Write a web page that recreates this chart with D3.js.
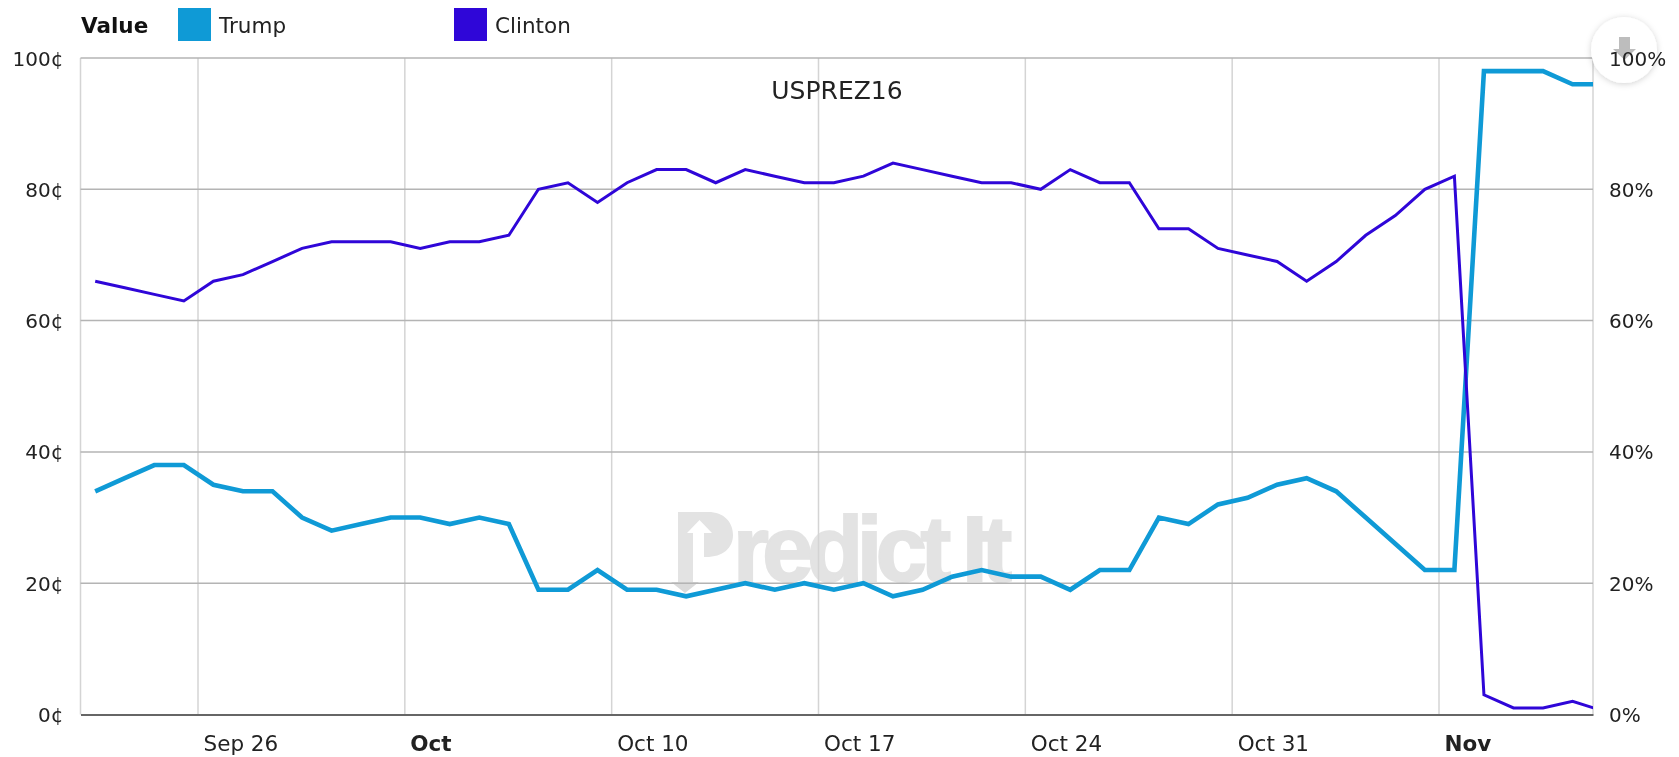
<!DOCTYPE html>
<html><head><meta charset="utf-8">
<script src="https://cdn.jsdelivr.net/npm/d3@7"></script>
<style>
html,body{margin:0;padding:0;background:#fff}
svg{display:block;filter:blur(0.45px)}
text{font-family:"DejaVu Sans",Verdana,sans-serif;fill:#222}
</style></head><body><svg id="c" width="1679" height="757"></svg>
<script>
const dates=["09-22","09-23","09-24","09-25","09-26","09-27","09-28","09-29","09-30","10-01","10-02","10-03","10-04","10-05","10-06","10-07","10-08","10-09","10-10","10-11","10-12","10-13","10-14","10-15","10-16","10-17","10-18","10-19","10-20","10-21","10-22","10-23","10-24","10-25","10-26","10-27","10-28","10-29","10-30","10-31","11-01","11-02","11-03","11-04","11-05","11-06","11-07","11-08","11-09","11-10","11-11"];
const trump=[34,36,38,38,35,34,34,30,28,29,30,30,29,30,29,19,19,22,19,19,18,19,20,19,20,19,20,18,19,21,22,21,21,19,22,22,30,29,32,33,35,36,34,30,26,22,22,98,98,98,96];
const clinton=[66,65,64,63,66,67,69,71,72,72,72,71,72,72,73,80,81,78,81,83,83,81,83,82,81,81,82,84,83,82,81,81,80,83,81,81,74,74,71,70,69,66,69,73,76,80,82,3,1,1,2];
const lastStamp="2016-11-12T05:30";
const lastTrump=96, lastClinton=1;
const yTicks=[0,20,40,60,80,100];
const xTickDates=["2016-09-26","2016-10-03","2016-10-10","2016-10-17","2016-10-24","2016-10-31","2016-11-07"];
const xTickLabels=["Sep 26","Oct","Oct 10","Oct 17","Oct 24","Oct 31","Nov"];
const seriesNames=["Trump","Clinton"];
const seriesColors=["#0f9ad6","#2f06d8"];

const L=80.5,R=1593,T=58,B=714.5;
const svg=d3.select("#c");
const parse=d3.timeParse("%Y-%m-%dT%H:%M");
const stamps=dates.map(d=>parse("2016-"+d+"T12:30")).concat([parse(lastStamp)]);
const tickD=xTickDates.map(d=>parse(d+"T00:00"));
const px=(1439-198)/((tickD[6]-tickD[0]));
const x=d3.scaleTime()
  .domain([new Date(+tickD[0]+(L-198)/px),new Date(+tickD[0]+(R-198)/px)])
  .range([L,R]);
const y=d3.scaleLinear().domain([0,100]).range([B,T]);

// watermark
const wm=svg.append("g");
const wmFill="#e3e3e3";
wm.append("path").attr("d","M678 512H708C724 512 733 522 733 535C733 548 723 557 706 557H693V582H678Z").attr("fill",wmFill);
wm.append("path").attr("d","M693 570V533H687L699.5 520L712 533H704V557H704V570Z").attr("fill","#fff");
wm.append("path").attr("d","M671 582H699L685 593Z").attr("fill","#dadada");
const wmText=[["redict",733,-6.5],["It",962,-6]];
wm.selectAll("text").data(wmText).join("text").attr("x",d=>d[1]).attr("y",581)
  .style("font-family","'Liberation Sans',Arial,sans-serif").style("font-weight",700)
  .style("font-size","92px").style("letter-spacing",d=>d[2]+"px").style("fill",wmFill)
  .style("stroke",wmFill).style("stroke-width","2px").text(d=>d[0]);

// vertical grid
svg.append("g").selectAll("line").data(tickD.concat([x.domain()[0],x.domain()[1]])).join("line")
  .attr("x1",d=>x(d)).attr("x2",d=>x(d)).attr("y1",T).attr("y2",B)
  .attr("stroke","#d4d4d4").attr("stroke-width",1.5);
// horizontal grid
svg.append("g").selectAll("line").data(yTicks.filter(v=>v>0)).join("line")
  .attr("x1",L).attr("x2",R).attr("y1",d=>y(d)).attr("y2",d=>y(d))
  .attr("stroke","#b4b4b4").attr("stroke-width",1.5);

// axes
const fs=20, fsX=21.5;
const ax=svg.append("g").attr("transform",`translate(0,${B})`)
  .call(d3.axisBottom(x).tickValues(tickD).tickSize(0).tickFormat((d,i)=>xTickLabels[i]));
ax.select(".domain").attr("stroke","#666").attr("stroke-width",2);
ax.selectAll("text").attr("text-anchor","start").attr("dx",5).attr("dy",0).attr("y",36)
  .style("font-size",fsX+"px").style("fill","#222")
  .style("font-weight",(d,i)=>(i==1||i==6)?700:400);
const ayL=svg.append("g").attr("transform",`translate(${L},0)`)
  .call(d3.axisLeft(y).tickValues(yTicks).tickSize(0).tickFormat(d=>d+"¢"));
ayL.select(".domain").remove();
ayL.selectAll("text").attr("x",-17).attr("dy",0).attr("y",7).style("font-size",fs+"px").style("fill","#222");
const ayR=svg.append("g").attr("transform",`translate(${R},0)`)
  .call(d3.axisRight(y).tickValues(yTicks).tickSize(0).tickFormat(d=>d+"%"));
ayR.select(".domain").remove();

// export button
const ex=svg.append("g");
const defs=svg.append("defs");
const f=defs.append("filter").attr("id","sh").attr("x","-30%").attr("y","-30%").attr("width","160%").attr("height","160%");
f.append("feDropShadow").attr("dx",0).attr("dy",1).attr("stdDeviation",3).attr("flood-color","#000").attr("flood-opacity",0.18);
ex.append("circle").attr("cx",1624).attr("cy",50).attr("r",33).attr("fill","#fff").attr("filter","url(#sh)");
ex.append("path").attr("d","M1619 37H1630V49H1636L1624.5 60L1613 49H1619Z").attr("fill","#bdbdbd");
ayR.raise();
ayR.selectAll("text").attr("x",16).attr("dy",0).attr("y",7).style("font-size",fs+"px").style("fill","#222");

// lines
const clip=defs.append("clipPath").attr("id","pl").append("rect").attr("x",L).attr("y",T-4).attr("width",R-L).attr("height",B-T+4);
const line=d3.line().x(d=>x(d[0])).y(d=>y(d[1])).curve(d3.curveLinear);
const tData=stamps.map((s,i)=>[s,i<trump.length?trump[i]:lastTrump]);
const cData=stamps.map((s,i)=>[s,i<clinton.length?clinton[i]:lastClinton]);
const gl=svg.append("g").attr("clip-path","url(#pl)");
gl.append("path").attr("d",line(tData)).attr("fill","none").attr("stroke",seriesColors[0]).attr("stroke-width",4.6).attr("stroke-linejoin","miter");
gl.append("path").attr("d",line(cData)).attr("fill","none").attr("stroke",seriesColors[1]).attr("stroke-width",3).attr("stroke-linejoin","miter");

// title
svg.append("text").attr("x",837).attr("y",99).attr("text-anchor","middle").style("font-size","25px").text("USPREZ16");

// legend
svg.append("text").attr("x",81).attr("y",33).style("font-size","21.5px").style("font-weight",700).style("fill","#111").text("Value");
const legX=[178,454];
const lg=svg.append("g").selectAll("g").data(seriesNames).join("g").attr("transform",(d,i)=>`translate(${legX[i]},8)`);
lg.append("rect").attr("width",33).attr("height",33).attr("fill",(d,i)=>seriesColors[i]);
lg.append("text").attr("x",41).attr("y",25).style("font-size","21.5px").text(d=>d);
</script></body></html>
